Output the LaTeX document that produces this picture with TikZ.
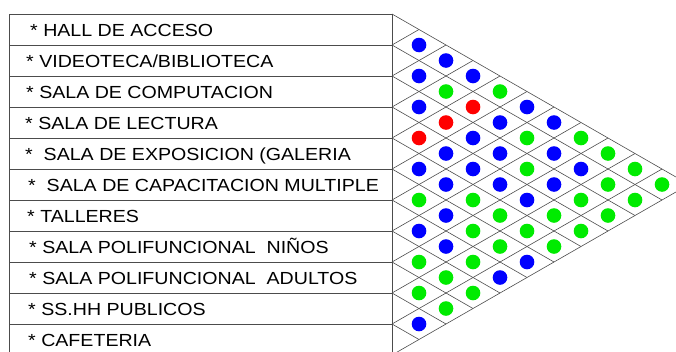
\documentclass[tikz,border=0pt]{standalone}
\usepackage{fontspec}
\setmainfont{Liberation Sans}
\newfontfamily\rotulofont[FakeStretch=1.12]{Liberation Sans}
\usepackage{tikz}
\usetikzlibrary{positioning, calc}

\definecolor{azul}{RGB}{0,0,255}
\definecolor{verde}{RGB}{0,235,0}
\definecolor{rojo}{RGB}{255,0,0}

\begin{document}
\begin{tikzpicture}[x=1pt, y=-1pt,
    linea/.style={draw=black!70, line width=0.6pt},
    espacio/.style={linea, anchor=north west, inner sep=0pt, minimum width=383pt, minimum height=31pt},
    rotulo/.style={anchor=base west, inner sep=0pt, font=\rotulofont\fontsize{17.5}{20}\selectfont},
    punto/.style={circle, inner sep=0pt, minimum size=14.6pt}]

    \useasboundingbox (0,0) rectangle (676,351);

    % ================= Ambientes (filas) =================
    \foreach \k/\dx/\texto in {1/30/{* HALL DE ACCESO},
                               2/26/{* VIDEOTECA/BIBLIOTECA},
                               3/26/{* SALA DE COMPUTACION},
                               4/25/{* SALA DE LECTURA},
                               5/25/{*\ \ SALA DE EXPOSICION (GALERIA},
                               6/28/{*\ \ SALA DE CAPACITACION MULTIPLE},
                               7/27/{* TALLERES},
                               8/29/{* SALA POLIFUNCIONAL\ \ NIÑOS},
                               9/29/{* SALA POLIFUNCIONAL\ \ ADULTOS},
                               10/28/{* SS.HH PUBLICOS},
                               11/28/{* CAFETERIA}} {
        \node[espacio] (R\k) at (9, 14+31*\k-31) {};
        \node[rotulo] (T\k) at (\dx, 14+31*\k-15.5+7) {\texto};
    }

    % ================= Matriz de rombos =================
    \foreach \k in {0,...,11} \coordinate (b\k) at (392, 14+31*\k);
    \foreach \k in {0,...,10} \draw[linea] (b\k) -- ++(27*11-27*\k, 15.5*11-15.5*\k);
    \foreach \k in {1,...,11} \draw[linea] (b\k) -- ++(27*\k, -15.5*\k);

    % ================= Relaciones (puntos) =================
    \foreach \i/\lista in {1/{azul,azul,azul,verde,azul,azul,verde,verde,verde,verde},
                           2/{azul,verde,rojo,azul,verde,azul,azul,verde,verde},
                           3/{azul,rojo,azul,azul,verde,azul,verde,verde},
                           4/{rojo,azul,azul,azul,azul,verde,verde},
                           5/{azul,azul,verde,verde,verde,verde},
                           6/{verde,azul,verde,verde,azul},
                           7/{azul,azul,verde,azul},
                           8/{verde,verde,verde},
                           9/{verde,verde},
                           10/{azul}} {
        \foreach \c [count=\d] in \lista {
            \pgfmathtruncatemacro\j{\i+\d}
            \node[punto, fill=\c] (P\i-\j) at (392+27*\d, 14+15.5*\i+15.5*\j-15.5) {};
        }
    }

\end{tikzpicture}
\end{document}
